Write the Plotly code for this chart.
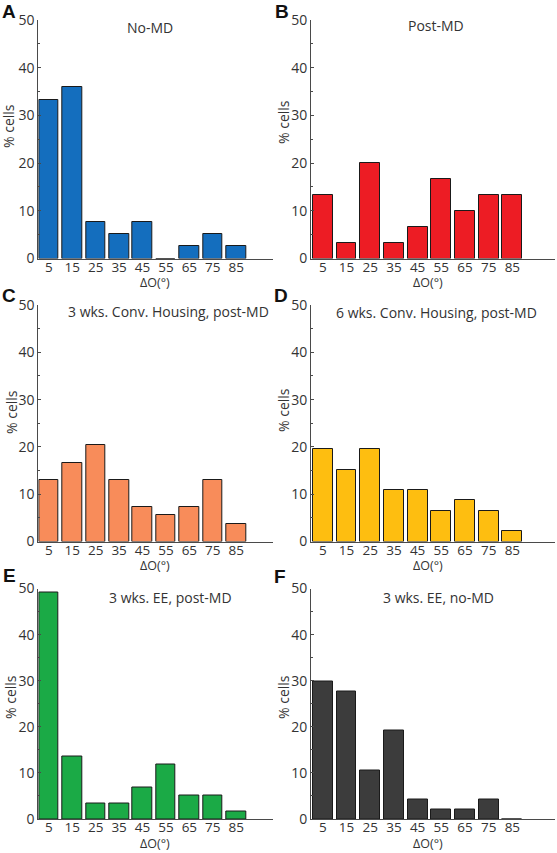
import plotly.graph_objects as go

W, H = 557, 853

bins = [5, 15, 25, 35, 45, 55, 65, 75, 85]
tick_labels = ["5", "15", "25", "35", "45", "55", "65", "75", "85"]

no_md = [33.3, 35.9, 7.7, 5.1, 7.7, 0.0, 2.6, 5.1, 2.6]
post_md = [13.3, 3.3, 20.0, 3.3, 6.7, 16.7, 10.0, 13.3, 13.3]
ch3_post = [13.0, 16.7, 20.4, 13.0, 7.4, 5.6, 7.4, 13.0, 3.7]
ch6_post = [19.6, 15.2, 19.6, 10.9, 10.9, 6.5, 8.7, 6.5, 2.2]
ee3_post = [49.2, 13.6, 3.4, 3.4, 6.8, 11.9, 5.1, 5.1, 1.7]
ee3_nomd = [29.8, 27.7, 10.6, 19.1, 4.3, 2.1, 2.1, 4.3, 0.0]

titles = ["No-MD", "Post-MD", "3 wks. Conv. Housing, post-MD",
          "6 wks. Conv. Housing, post-MD", "3 wks. EE, post-MD", "3 wks. EE, no-MD"]
letters = ["A", "B", "C", "D", "E", "F"]
series = [no_md, post_md, ch3_post, ch6_post, ee3_post, ee3_nomd]
colors = ["#146EBE", "#ED1C24", "#F88C5A", "#FEBE10", "#1BAA46", "#3C3C3C"]

# pixel layout
col_x = [(38.3, 272.5), (311.0, 555.0)]
col_xrange = [[0.5, 100.5], [0.0, 103.0]]
row_y = [(20.0, 258.5), (305.0, 541.5), (588.5, 819.0)]
title_pos = [(150, 27), (436, 26), (168, 311), (436, 312), (170, 597), (439, 597)]
letter_pos = [(9, 11), (282, 11), (9, 295), (281, 295), (9, 575), (280, 576)]
ylab_pos = [(8, 126), (284, 122), (11, 412), (283, 410), (10, 697), (283, 697)]


def px(x):
    return x / W


def py(y):
    return 1 - y / H


fig = go.Figure()
annotations = []
FONT = "Open Sans"
axis_color = "#4a4a4a"
text_color = "#333333"

for i in range(6):
    r, c = divmod(i, 2)
    n = i + 1
    xa = "x" if n == 1 else f"x{n}"
    ya = "y" if n == 1 else f"y{n}"
    fig.add_trace(go.Bar(
        x=bins, y=series[i], width=8.4,
        marker=dict(color=colors[i], line=dict(color="#1a1a1a", width=1)),
        xaxis=xa, yaxis=ya, showlegend=False, hoverinfo="x+y",
    ))
    x0, x1 = col_x[c]
    ytop, ybot = row_y[r]
    xkey = "xaxis" if n == 1 else f"xaxis{n}"
    ykey = "yaxis" if n == 1 else f"yaxis{n}"
    fig.layout[xkey] = dict(
        domain=[px(x0), px(x1)], range=col_xrange[c], anchor=ya,
        showline=True, linecolor=axis_color, linewidth=1,
        tickmode="array", tickvals=bins, ticktext=tick_labels,
        ticks="", showgrid=False, zeroline=False, automargin=False,
        ticklabelstandoff=-4,
        tickfont=dict(family=FONT, size=13.5, color=text_color),
        fixedrange=True,
    )
    fig.layout[ykey] = dict(
        domain=[py(ybot), py(ytop)], range=[0, 50], anchor=xa,
        showline=True, linecolor=axis_color, linewidth=1,
        tickmode="linear", tick0=0, dtick=10,
        ticks="inside", ticklen=3, tickcolor=axis_color,
        minor=dict(ticks="inside", ticklen=2, dtick=5, tickcolor=axis_color),
        showgrid=False, zeroline=False, automargin=False,
        tickfont=dict(family=FONT, size=14, color=text_color),
        fixedrange=True,
    )
    # title
    tx, ty = title_pos[i]
    annotations.append(dict(x=px(tx), y=py(ty), xref="paper", yref="paper",
                            text=titles[i], showarrow=False,
                            font=dict(family=FONT, size=14, color=text_color),
                            xanchor="center", yanchor="middle"))
    # panel letter
    lx, ly = letter_pos[i]
    annotations.append(dict(x=px(lx), y=py(ly), xref="paper", yref="paper",
                            text=f"<b>{letters[i]}</b>", showarrow=False,
                            font=dict(family="Liberation Sans", size=19, color="#111111"),
                            xanchor="center", yanchor="middle"))
    # y label
    yx, yy = ylab_pos[i]
    annotations.append(dict(x=px(yx), y=py(yy), xref="paper", yref="paper",
                            text="% cells", showarrow=False, textangle=-90,
                            font=dict(family=FONT, size=14, color=text_color),
                            xanchor="center", yanchor="middle"))
    # x label
    xlx = (x0 + x0 + 234) / 2
    annotations.append(dict(x=px(xlx), y=py(ybot + 24), xref="paper", yref="paper",
                            text="ΔO(°)", showarrow=False,
                            font=dict(family=FONT, size=12.5, color=text_color),
                            xanchor="center", yanchor="middle"))

fig.update_layout(
    width=W, height=H,
    margin=dict(l=0, r=0, t=0, b=0, autoexpand=False),
    paper_bgcolor="white", plot_bgcolor="white",
    annotations=annotations,
    bargap=0,
)

fig.write_html("out.html", config={"displayModeBar": False},
               post_script="document.body.style.margin='0';document.body.style.padding='0';")
